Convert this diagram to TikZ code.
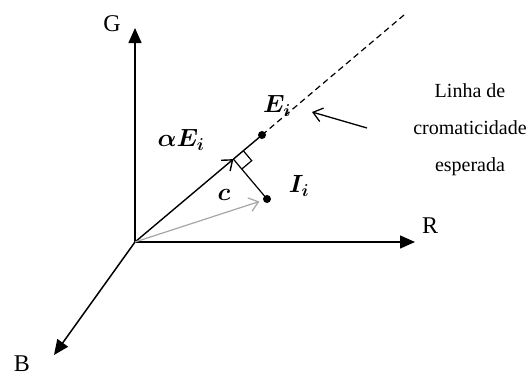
\documentclass[tikz,border=0pt]{standalone}
\usepackage{fontspec}
\setmainfont{Liberation Serif}
\usetikzlibrary{arrows.meta,calc}
\definecolor{Ink}{HTML}{000000}
\definecolor{Ghost}{HTML}{A6A6A6}
\tikzset{
  axis/.style={-{Triangle[length=15pt,width=13pt]}, line width=1.5pt, draw=Ink},
  vec/.style={-{Straight Barb[length=9pt,width=14pt]}, line width=1.4pt, draw=Ink},
  greyvec/.style={-{Straight Barb[length=9pt,width=14pt]}, line width=1.2pt, draw=Ghost},
  dot/.style={circle, fill=Ink, inner sep=0pt, minimum size=8pt},
  axlabel/.style={font=\fontsize{24}{24}\selectfont},
  mathlabel/.style={font=\fontsize{25}{25}\selectfont\boldmath},
  note/.style={font=\fontsize{20}{37}\selectfont, align=center}
}
\begin{document}
\begin{tikzpicture}[x=1pt,y=-1pt]
  \useasboundingbox (0,0) rectangle (530,376);
  % axes
  \coordinate (O) at (135,242);
  \coordinate (Gtip) at (135,28);
  \coordinate (Rtip) at (415,242);
  \coordinate (Btip) at (54,355);
  \draw[axis] (O)--(Gtip);
  \draw[axis] (O)--(Rtip);
  \draw[axis] (O)--(Btip);
  \node[axlabel] (G) at (112,24) {G};
  \node[axlabel] (R) at (430,226) {R};
  \node[axlabel] (B) at (22,364) {B};
  % expected chromaticity line
  \node[dot] (E) at (262,135) {};
  \node[dot] (I) at (267,199) {};
  \coordinate (D) at (404,15);
  \coordinate (F) at ($(O)!(I)!(E)$);
  \draw[vec] (O)--(F);
  \draw[line width=1.4pt] (F)--(E.center);
  \draw[line width=1.2pt, dash pattern=on 6pt off 4pt] (E.center)--(D);
  \draw[line width=1.2pt] (F)--(I.center);
  \draw[line width=1.2pt] ($(F)!13pt!(E)$) -- ($(F)!13pt!(E)+(F)!13pt!(I)-(F)$) -- ($(F)!13pt!(I)$);
  \draw[greyvec, shorten >=8pt] (O)--(I.center);
  % labels
  \node[mathlabel] (aE) at (181,140) {$\alpha E_i$};
  \node[mathlabel] (c) at (224,195) {$c$};
  \node[mathlabel] (Ei) at (277,106) {$E_i$};
  \node[mathlabel] (Ii) at (299,186) {$I_i$};
  \node[note] (txt) at (470,130) {Linha de\\cromaticidade\\esperada};
  \coordinate (pt) at (367,128);
  \draw[vec, line width=1.3pt] (pt)--(312,112);
\end{tikzpicture}
\end{document}
